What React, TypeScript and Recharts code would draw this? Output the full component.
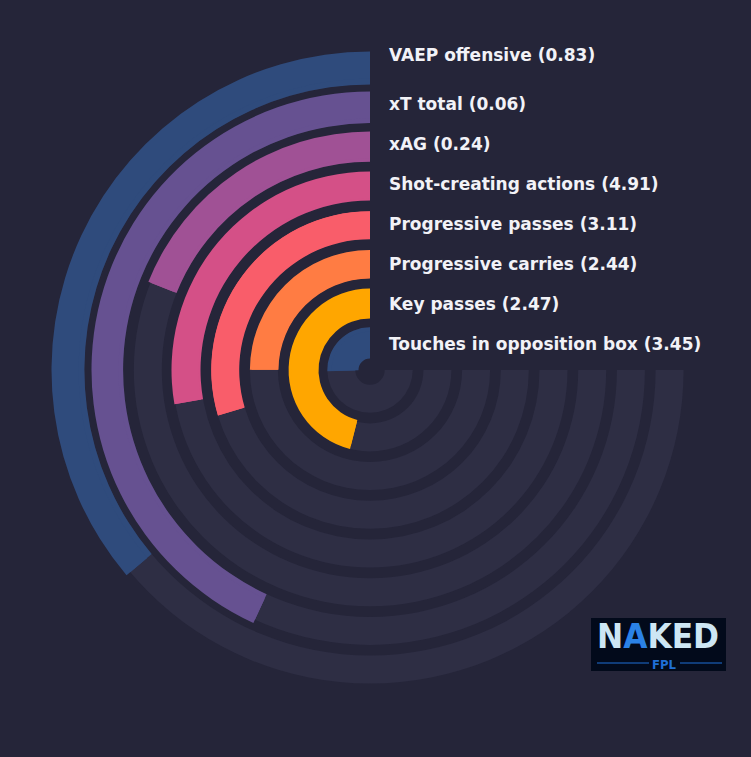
import { RadialBarChart, RadialBar, PolarAngleAxis, LabelList } from 'recharts';

// listed top to bottom as in the legend (outermost ring first)
const metrics = [
  'VAEP offensive',
  'xT total',
  'xAG',
  'Shot-creating actions',
  'Progressive passes',
  'Progressive carries',
  'Key passes',
  'Touches in opposition box',
];
const rawValues = [0.83, 0.06, 0.24, 4.91, 3.11, 2.44, 2.47, 3.45];
const percentiles = [48.2, 57.5, 25.3, 37.0, 39.5, 33.3, 61.4, 33.9];
const colors = ['#2f4b7c', '#665191', '#a05195', '#d45087', '#f95d6a', '#ff7c43', '#ffa600', '#2f4b7c'];

const BG = '#252539';
const TRACK = '#2e2e44';
const W = 751;
const H = 757;
const CX = 370;
const CY = 370;

// radial axis puts index 0 at the centre, so reverse
const data = metrics
  .map((m, i) => ({
    name: m,
    pct: percentiles[i],
    label: `${m} (${rawValues[i].toFixed(2)})`,
    fill: colors[i],
  }))
  .reverse();

const renderLabel = (props: any) => {
  const vb = props.viewBox || {};
  if (vb.cx == null) return null;
  const mid = (vb.innerRadius + vb.outerRadius) / 2;
  const lift = props.value && String(props.value).startsWith(metrics[0]) ? 10 : 1;
  return (
    <text
      x={vb.cx + 19}
      y={vb.cy - mid - lift}
      fill="#f2f2f7"
      fontSize={17}
      fontWeight="bold"
      fontFamily="DejaVu Sans, sans-serif"
      dominantBaseline="central"
    >
      {props.value}
    </text>
  );
};

function Logo() {
  return (
    <svg width={135} height={53} style={{ position: 'absolute', left: 591, top: 618 }}>
      <rect x={0} y={0} width={135} height={53} fill="#020a1b" />
      <text
        x={6}
        y={30}
        fontSize={33}
        fontWeight="bold"
        fontFamily="DejaVu Sans, sans-serif"
        textLength={122}
        lengthAdjust="spacingAndGlyphs"
        fill="#cde6f4"
      >
        N<tspan fill="#2b82e6">A</tspan>KED
      </text>
      <line x1={6} y1={45} x2={58} y2={45} stroke="#1f6fd6" strokeWidth={1} />
      <line x1={89} y1={45} x2={131} y2={45} stroke="#1f6fd6" strokeWidth={1} />
      <text
        x={73}
        y={51}
        textAnchor="middle"
        fontSize={13}
        fontWeight="bold"
        fontFamily="DejaVu Sans Condensed, DejaVu Sans, sans-serif"
        fill="#1f6fd6"
      >
        FPL
      </text>
    </svg>
  );
}

export default function App() {
  return (
    <div style={{ position: 'absolute', left: 0, top: 0, width: W, height: H, background: BG, overflow: 'hidden' }}>
      {/* background tracks */}
      <div style={{ position: 'absolute', left: 0, top: 0 }}>
        <RadialBarChart
          width={W}
          height={H}
          data={data}
          cx={CX}
          cy={CY}
          innerRadius={9.7}
          outerRadius={319.3}
          startAngle={90}
          endAngle={360}
          barSize={28}
          margin={{ top: 0, right: 0, bottom: 0, left: 0 }}
        >
          <PolarAngleAxis type="number" domain={[0, 100]} tick={false} axisLine={false} />
          <RadialBar dataKey="pct" fill="transparent" background={{ fill: TRACK }} isAnimationActive={false} />
        </RadialBarChart>
      </div>
      {/* value bars */}
      <div style={{ position: 'absolute', left: 0, top: 0 }}>
        <RadialBarChart
          width={W}
          height={H}
          data={data}
          cx={CX}
          cy={CY}
          innerRadius={4.5}
          outerRadius={324.5}
          startAngle={90}
          endAngle={360}
          barSize={27}
          margin={{ top: 0, right: 0, bottom: 0, left: 0 }}
        >
          <PolarAngleAxis type="number" domain={[0, 100]} tick={false} axisLine={false} />
          <RadialBar dataKey="pct" isAnimationActive={false}>
            <LabelList dataKey="label" content={renderLabel} />
          </RadialBar>
        </RadialBarChart>
      </div>
      <Logo />
    </div>
  );
}
